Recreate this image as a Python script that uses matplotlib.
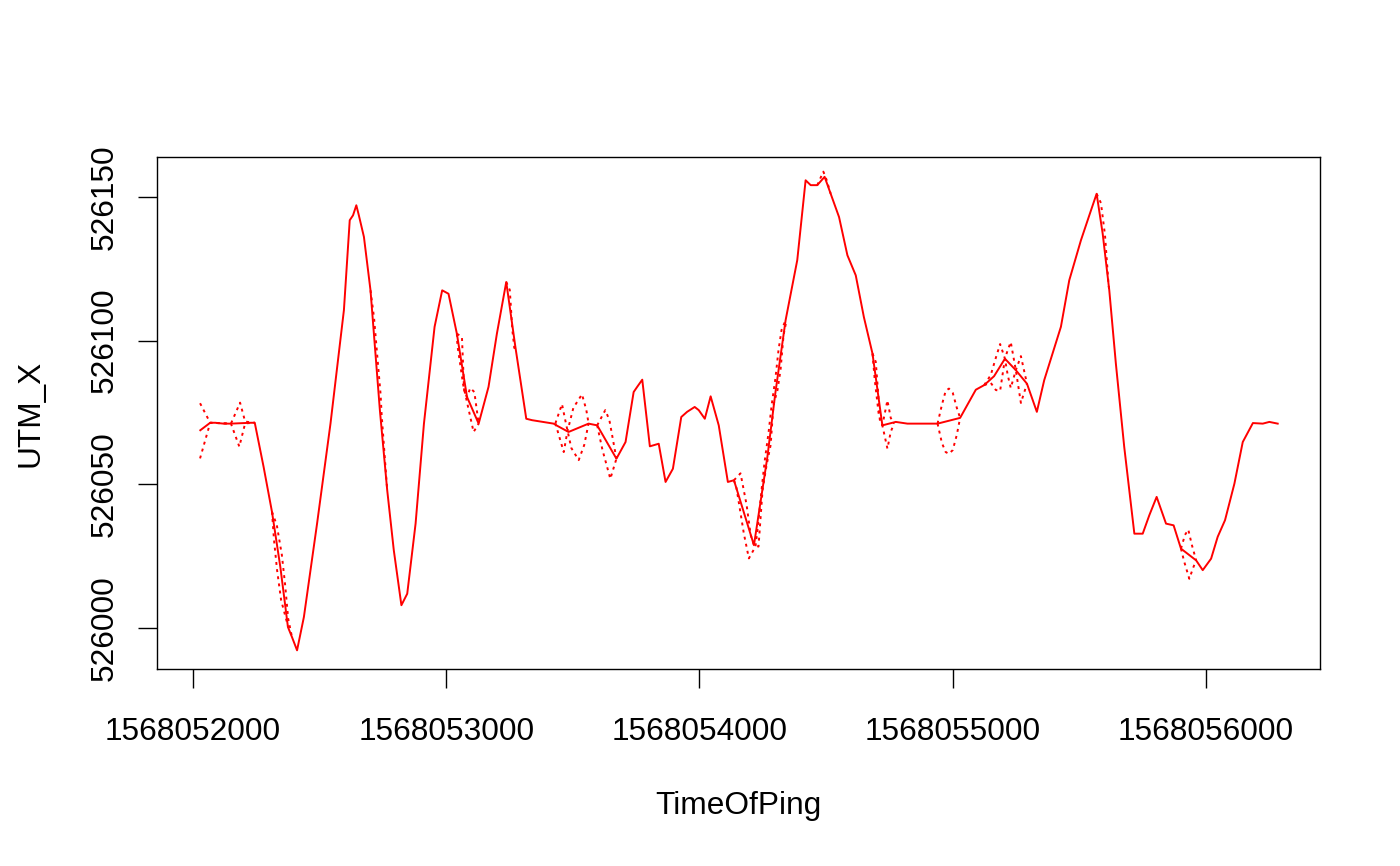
import numpy as np
import matplotlib
matplotlib.use('Agg')
import matplotlib.pyplot as plt

nan = np.nan

# solid track: TimeOfPing vs UTM_X
time_of_ping = [1568052029, 1568052068, 1568052088, 1568052121, 1568052150,
                1568052229, 1568052244, 1568052279, 1568052312, 1568052345,
                1568052375, 1568052391, 1568052411, 1568052438, 1568052490,
                1568052543, 1568052596, 1568052619, 1568052632, 1568052645,
                1568052655, 1568052675, 1568052701, 1568052738, 1568052767,
                1568052793, 1568052823, 1568052846, 1568052879, 1568052912,
                1568052954, 1568052984, 1568053009, 1568053042, 1568053082,
                1568053128, 1568053167, 1568053200, 1568053237, 1568053273,
                1568053316, 1568053339, 1568053424, 1568053435, 1568053483,
                1568053562, 1568053596, 1568053672, 1568053708, 1568053740,
                1568053754, 1568053774, 1568053804, 1568053839, 1568053866,
                1568053895, 1568053928, 1568053951, 1568053981, 1568053997,
                1568054021, 1568054044, 1568054076, 1568054112, 1568054136,
                1568054215, 1568054268, 1568054300, 1568054340, 1568054386,
                1568054419, 1568054439, 1568054465, 1568054494, 1568054518,
                1568054551, 1568054584, 1568054617, 1568054649, 1568054683,
                1568054722, 1568054775, 1568054821, 1568054940, 1568055029,
                1568055091, 1568055124, 1568055163, 1568055206, 1568055249,
                1568055293, 1568055332, 1568055361, 1568055394, 1568055427,
                1568055460, 1568055506, 1568055546, 1568055568, 1568055592,
                1568055618, 1568055644, 1568055677, 1568055717, 1568055750,
                1568055776, 1568055805, 1568055842, 1568055872, 1568055901,
                1568055961, 1568055987, 1568056020, 1568056046, 1568056075,
                1568056112, 1568056145, 1568056185, 1568056224, 1568056250,
                1568056283]
utm_x = [526068.8, 526071.4, 526071.4, 526071.1, 526071.1,
         526071.4, 526071.4, 526056.0, 526040.4, 526021.2,
         526000.3, 525996.8, 525992.2, 526003.8, 526036.3,
         526071.1, 526110.6, 526141.9, 526143.6, 526147.1,
         526143.6, 526136.1, 526117.5, 526075.8, 526047.9,
         526027.0, 526007.9, 526011.9, 526036.3, 526071.1,
         526104.8, 526117.5, 526116.3, 526102.4, 526080.4,
         526071.1, 526083.9, 526102.4, 526120.4, 526097.8,
         526072.8, 526072.3, 526071.1, 526070.5, 526068.2,
         526071.1, 526070.5, 526058.9, 526064.7, 526082.1,
         526083.9, 526086.4, 526063.2, 526064.1, 526050.8,
         526055.4, 526073.4, 526075.2, 526076.9, 526075.8,
         526072.8, 526080.6, 526070.5, 526050.8, 526051.4,
         526028.8, 526059.5, 526082.1, 526107.1, 526128.0,
         526155.8, 526154.1, 526154.1, 526157.0, 526151.1,
         526143.0, 526129.7, 526122.7, 526108.2, 526095.5,
         526070.5, 526071.7, 526071.1, 526071.1, 526073.1,
         526082.9, 526084.5, 526087.6, 526093.7, 526089.7,
         526085.0, 526075.2, 526086.2, 526095.5, 526104.8,
         526121.0, 526134.9, 526145.4, 526151.1, 526137.2,
         526117.5, 526092.0, 526063.0, 526032.8, 526032.8,
         526039.2, 526045.6, 526036.3, 526035.7, 526027.6,
         526023.5, 526020.1, 526024.1, 526031.7, 526037.5,
         526050.2, 526064.7, 526071.3, 526071.1, 526071.7,
         526071.1]

# dotted curves, only where they leave the solid track (nan = gap)
dot_a_time = [1568052028, 1568052068, 1568052150, 1568052186, 1568052206, 1568052244, nan,
              1568052312, 1568052331, 1568052351, 1568052364, 1568052376, 1568052391, nan,
              1568052701, 1568052715, 1568052729, 1568052741, 1568052745, 1568052767, nan,
              1568053042, 1568053062, 1568053071, 1568053082, 1568053095, 1568053111, 1568053128, nan,
              1568053237, 1568053251, 1568053261, 1568053269, 1568053273, nan,
              1568053431, 1568053457, 1568053474, 1568053494, 1568053523, 1568053545, 1568053562, nan,
              1568053596, 1568053628, 1568053644, 1568053672, nan,
              1568054136, 1568054162, 1568054186, 1568054202, 1568054215, 1568054233, 1568054249,
              1568054265, 1568054281, 1568054292, 1568054308, 1568054320, 1568054332, 1568054344, nan,
              1568054465, 1568054489, 1568054502, 1568054518, nan,
              1568054683, 1568054696, 1568054706, 1568054712, 1568054722, 1568054742, 1568054755, 1568054768, nan,
              1568054940, 1568054957, 1568054972, 1568054985, 1568055000, 1568055016, 1568055029, nan,
              1568055124, 1568055150, 1568055170, 1568055187, 1568055206, 1568055217, 1568055229,
              1568055249, 1568055269, 1568055293, nan,
              1568055568, 1568055585, 1568055601, 1568055611, 1568055615, 1568055618, nan,
              1568055901, 1568055917, 1568055930, 1568055944, 1568055961]
dot_a_utm = [526078.2, 526071.4, 526071.1, 526078.4, 526071.8, 526071.4, nan,
             526040.4, 526035.8, 526025.4, 526014.9, 526003.2, 525996.8, nan,
             526117.5, 526107.9, 526093.3, 526081.1, 526074.1, 526047.9, nan,
             526102.4, 526101.3, 526081.8, 526080.4, 526083.5, 526082.1, 526071.1, nan,
             526120.4, 526117.6, 526103.7, 526097.4, 526097.8, nan,
             526071.2, 526077.9, 526070.6, 526062.6, 526058.4, 526063.7, 526071.2, nan,
             526070.5, 526075.8, 526072.4, 526058.9, nan,
             526051.4, 526053.8, 526042.8, 526032.4, 526028.8, 526028.3, 526048.0,
             526056.7, 526063.7, 526077.6, 526082.8, 526089.8, 526102.0, 526107.2, nan,
             526154.1, 526158.8, 526155.9, 526151.1, nan,
             526095.5, 526092.6, 526081.1, 526072.4, 526070.5, 526079.2, 526073.1, 526071.1, nan,
             526071.1, 526077.6, 526082.5, 526083.3, 526081.8, 526076.6, 526073.1, nan,
             526084.5, 526088.0, 526094.0, 526098.8, 526093.7, 526088.0, 526083.5,
             526089.7, 526094.6, 526085.0, nan,
             526151.1, 526147.9, 526136.8, 526124.6, 526119.4, 526117.5, nan,
             526027.6, 526032.4, 526034.2, 526028.9, 526023.5]

dot_b_time = [1568052028, 1568052068, 1568052150, 1568052183, 1568052206, 1568052244, nan,
              1568052312, 1568052320, 1568052332, 1568052348, 1568052376, nan,
              1568053042, 1568053044, 1568053067, 1568053108, 1568053128, nan,
              1568053431, 1568053464, 1568053478, 1568053502, 1568053536, 1568053553, 1568053562, nan,
              1568053596, 1568053617, 1568053648, 1568053672, nan,
              1568054136, 1568054146, 1568054175, 1568054195, 1568054221, 1568054229, 1568054245,
              1568054257, 1568054273, 1568054285, 1568054300, 1568054312, 1568054324, 1568054340, nan,
              1568054683, 1568054692, 1568054708, 1568054722, 1568054742, 1568054755, 1568054768, nan,
              1568054940, 1568054957, 1568054972, 1568054985, 1568055000, 1568055016, 1568055029, nan,
              1568055124, 1568055150, 1568055170, 1568055187, 1568055206, 1568055217, 1568055229,
              1568055249, 1568055269, 1568055293, nan,
              1568055901, 1568055914, 1568055934, 1568055949, 1568055961]
dot_b_utm = [526059.0, 526071.4, 526071.1, 526063.1, 526071.2, 526071.4, nan,
             526040.4, 526030.6, 526020.2, 526009.7, 526000.3, nan,
             526102.4, 526098.5, 526084.6, 526068.2, 526071.1, nan,
             526071.2, 526061.2, 526068.2, 526076.6, 526081.3, 526075.9, 526071.2, nan,
             526070.5, 526061.9, 526051.9, 526058.9, nan,
             526051.4, 526048.7, 526032.9, 526024.2, 526028.3, 526034.1, 526048.0,
             526057.8, 526068.2, 526077.6, 526087.0, 526096.7, 526103.7, 526107.1, nan,
             526095.5, 526086.3, 526074.1, 526070.5, 526062.4, 526068.2, 526071.1, nan,
             526071.1, 526064.4, 526061.2, 526060.6, 526061.9, 526067.2, 526073.1, nan,
             526084.5, 526085.3, 526082.8, 526082.5, 526093.7, 526096.7, 526099.5,
             526089.7, 526078.3, 526085.0, nan,
             526027.6, 526023.0, 526017.1, 526020.9, 526023.5]

x_ticks = [1568052000, 1568053000, 1568054000, 1568055000, 1568056000]
y_ticks = [526000, 526050, 526100, 526150]

plt.rcParams['font.family'] = ['Liberation Sans', 'DejaVu Sans']
fs = 22.8

fig = plt.figure(figsize=(14, 8.66), dpi=100)
ax = fig.add_axes([157 / 1400, 1 - 669 / 866, (1320 - 157) / 1400, (669 - 157) / 866])

ax.plot(dot_a_time, dot_a_utm, color='#ff0000', lw=1.4, dashes=(1.5, 2.2))
ax.plot(dot_b_time, dot_b_utm, color='#ff0000', lw=1.4, dashes=(1.5, 2.2))
ax.plot(time_of_ping, utm_x, color='#ff0000', lw=1.4)

ax.set_xlim(1568051858, 1568056450)
ax.set_ylim(525985.7, 526163.9)

ax.set_xticks(x_ticks)
ax.set_xticklabels([str(v) for v in x_ticks], fontsize=fs)
ax.set_yticks(y_ticks)
ax.set_yticklabels([str(v) for v in y_ticks], fontsize=fs, rotation=90, va='center')
ax.tick_params(axis='x', direction='out', length=13.5, width=1.0, color='black', pad=21)
ax.tick_params(axis='y', direction='out', length=13.5, width=1.0, color='black', pad=13)

for s in ax.spines.values():
    s.set_linewidth(1.0)
    s.set_color('black')

ax.set_xlabel('TimeOfPing', fontsize=fs, labelpad=32)
ax.set_ylabel('UTM_X', fontsize=fs, labelpad=32)

fig.savefig('out.png', dpi=100)
